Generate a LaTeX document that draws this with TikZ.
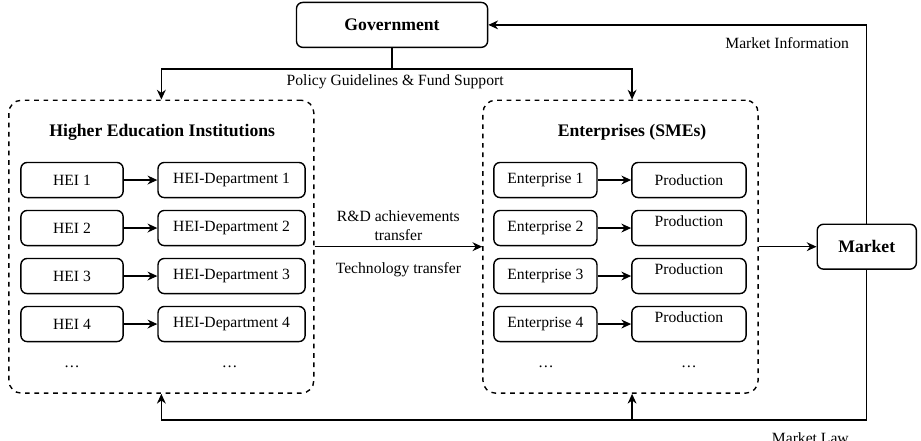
\documentclass[tikz,border=0pt]{standalone}
\usepackage{fontspec}
\setmainfont{Liberation Serif}
\usepackage{tikz}
\usetikzlibrary{positioning,arrows.meta}

\begin{document}
\begin{tikzpicture}[every node/.style={font=\fontsize{10}{12}\selectfont, align=center},
  box/.style={draw, rounded corners=4pt, line width=0.9pt, minimum height=7.9mm, inner sep=2pt},
  grp/.style={draw, dashed, rounded corners=8pt, line width=0.9pt, minimum height=65.9mm},
  head/.style={font=\fontsize{11.3}{13}\selectfont\bfseries},
  arr/.style={-{Stealth[length=2.2mm, width=2mm]}, line width=0.8pt}, ln/.style={line width=0.8pt}]
\useasboundingbox (0,0) rectangle (20.72,-9.9);
% the two groups
\node[grp, minimum width=68.6mm] (hei) at (3.63,-5.55) {};
\node[grp, minimum width=61.9mm] (ent) at (13.96,-5.55) {};
\node[head] (heit) at (3.65,-2.97) {Higher Education Institutions};
\node[head] (entt) at (14.22,-2.97) {Enterprises (SMEs)};
\node[box, head, minimum width=43mm, minimum height=10.1mm] (gov) at (8.82,-0.56) {Government};
\node[box, head, minimum width=22.3mm, minimum height=10.1mm] (mkt) at (19.5,-5.55) {Market};
% universities and departments
\node[box, minimum width=23mm] (h1) at (1.62,-4.05) {HEI 1};
\node[box, minimum width=23mm] (h2) at (1.62,-5.13) {HEI 2};
\node[box, minimum width=23mm] (h3) at (1.62,-6.21) {HEI 3};
\node[box, minimum width=23mm] (h4) at (1.62,-7.29) {HEI 4};
\node[box, minimum width=33.1mm] (dp1) at (5.21,-4.05) {HEI-Department 1};
\node[box, minimum width=33.1mm] (dp2) at (5.21,-5.13) {HEI-Department 2};
\node[box, minimum width=33.1mm] (dp3) at (5.21,-6.21) {HEI-Department 3};
\node[box, minimum width=33.1mm] (dp4) at (5.21,-7.29) {HEI-Department 4};
\node (hd) at (1.62,-8.26) {\dots}; \node (dpd) at (5.17,-8.26) {\dots};
% enterprises and production
\node[box, minimum width=23.2mm] (e1) at (12.27,-4.05) {Enterprise 1};
\node[box, minimum width=23.2mm] (e2) at (12.27,-5.13) {Enterprise 2};
\node[box, minimum width=23.2mm] (e3) at (12.27,-6.21) {Enterprise 3};
\node[box, minimum width=23.2mm] (e4) at (12.27,-7.29) {Enterprise 4};
\node[box, minimum width=25.7mm] (p1) at (15.5,-4.05) {Production};
\node[box, minimum width=25.7mm, text depth=9pt] (p2) at (15.5,-5.13) {Production};
\node[box, minimum width=25.7mm, text depth=9pt] (p3) at (15.5,-6.21) {Production};
\node[box, minimum width=25.7mm, text depth=9pt] (p4) at (15.5,-7.29) {Production};
\node (ed) at (12.28,-8.26) {\dots}; \node (pd) at (15.5,-8.26) {\dots};
\draw[arr] (h1) -- (dp1); \draw[arr] (h2) -- (dp2); \draw[arr] (h3) -- (dp3); \draw[arr] (h4) -- (dp4);
\draw[arr] (e1) -- (p1); \draw[arr] (e2) -- (p2); \draw[arr] (e3) -- (p3); \draw[arr] (e4) -- (p4);
% policy from the government
\coordinate (pol) at (8.82,-1.55);
\draw[ln] (gov) -- (pol);
\draw[arr] (pol) -| (hei.north); \draw[arr] (pol) -| (entt |- ent.north);
\node (polt) at (8.89,-1.85) {Policy Guidelines \& Fund Support};
% transfer and market
\draw[arr] (hei) -- node[above]{R\&D achievements\\transfer} node[below=2.2mm]{Technology transfer} (ent);
\draw[arr] (ent) -- (mkt);
\draw[arr] (mkt) |- (gov);
\node (minf) at (17.71,-0.97) {Market Information};
\coordinate (law) at (19.5,-9.45);
\draw[arr] (mkt) -- (law) -| (hei.south);
\draw[arr] (law -| entt) -- (entt |- ent.south);
\node[anchor=base] (mlaw) at (18.23,-9.97) {Market Law};
\end{tikzpicture}
\end{document}
